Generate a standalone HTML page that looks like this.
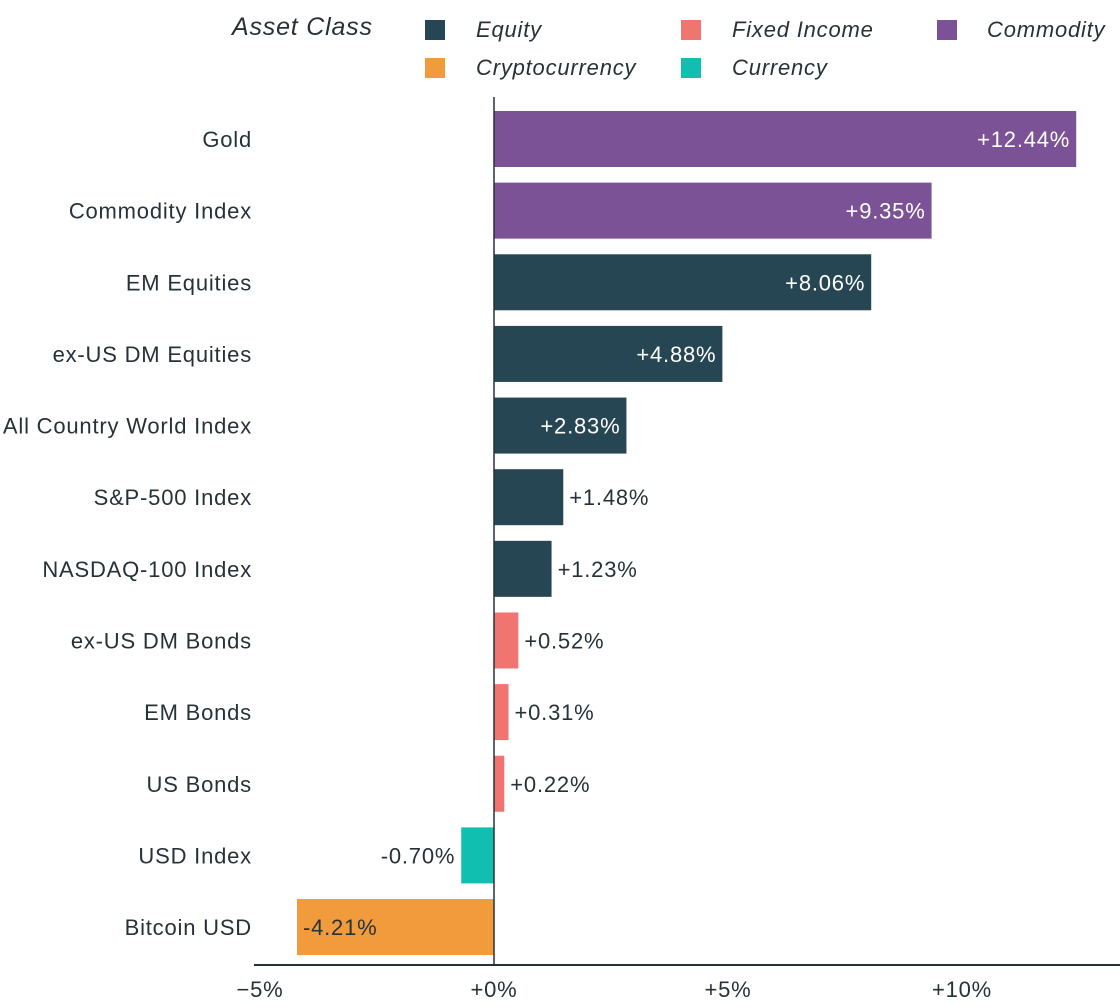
<!DOCTYPE html>
<html><head><meta charset="utf-8"><style>
body{margin:0;background:#fff;font-family:"Liberation Sans",sans-serif}
svg text{font-family:"Liberation Sans",sans-serif;letter-spacing:0.8px}
</style></head><body>
<svg id="c" width="1120" height="1000">
<g id="legend" font-style="italic" font-size="22" fill="#263238">
<text x="232" y="35" font-size="25">Asset Class</text>
<rect x="425" y="20" width="20" height="20" fill="#264653"/>
<text x="476" y="37">Equity</text>
<rect x="681" y="20" width="20" height="20" fill="#f07470"/>
<text x="732" y="37">Fixed Income</text>
<rect x="937" y="20" width="20" height="20" fill="#7b5295"/>
<text x="987" y="37">Commodity</text>
<rect x="425" y="58" width="20" height="20" fill="#f29b3c"/>
<text x="476" y="75">Cryptocurrency</text>
<rect x="681" y="58" width="20" height="20" fill="#10bfb0"/>
<text x="732" y="75">Currency</text>
</g>
</svg>
<script>
const categories=["Gold","Commodity Index","EM Equities","ex-US DM Equities","All Country World Index","S&P-500 Index ","NASDAQ-100 Index","ex-US DM Bonds","EM Bonds","US Bonds","USD Index","Bitcoin USD"];
const values=[12.44,9.35,8.06,4.88,2.83,1.48,1.23,0.52,0.31,0.22,-0.70,-4.21];
const classes=["Commodity","Commodity","Equity","Equity","Equity","Equity","Equity","Fixed Income","Fixed Income","Fixed Income","Currency","Cryptocurrency"];
const tickValues=[-5,0,5,10];
const tickLabels=["\u22125%","+0%","+5%","+10%"];
const colors={"Equity":"#264653","Fixed Income":"#f07470","Commodity":"#7b5295","Cryptocurrency":"#f29b3c","Currency":"#10bfb0"};
const svg=document.getElementById('c');const NS="http://www.w3.org/2000/svg";
const x=v=>494+v*46.8;
const y=i=>139+i*71.64;
function mk(t,a,txt){const e=document.createElementNS(NS,t);for(const k in a)e.setAttribute(k,a[k]);if(txt!=null)e.textContent=txt;svg.appendChild(e);return e;}
values.forEach((v,i)=>{
 const r=mk('rect',{x:Math.min(x(0),x(v)),y:y(i)-28,width:Math.abs(x(v)-x(0)),height:56,fill:colors[classes[i]]});
 
 
 const c=mk('text',{x:252,y:y(i)+8,'text-anchor':'end','font-size':22,fill:'#263238'},categories[i]);
 
 
 const lbl=(v>=0?'+':'')+v.toFixed(2)+'%';
 const w=Math.abs(x(v)-x(0));let a;
 if(v>=0&&w>100)a={x:x(v)-6,'text-anchor':'end',fill:'#fff'};
 else if(v>=0)a={x:x(v)+6,'text-anchor':'start',fill:'#263238'};
 else if(w>100)a={x:x(v)+6,'text-anchor':'start',fill:'#263238'};
 else a={x:x(v)-6,'text-anchor':'end',fill:'#263238'};
 a.y=y(i)+8;a['font-size']=22;
 const t=mk('text',a,lbl);
 
 
});
const zl=mk('line',{x1:494,x2:494,y1:97,y2:965,stroke:'#263238','stroke-width':1.5});


const xa=mk('line',{x1:254,x2:1120,y1:965,y2:965,stroke:'#263238','stroke-width':2});


tickValues.forEach((t,i)=>{
 const e=mk('text',{x:x(t),y:997,'text-anchor':'middle','font-size':22,fill:'#263238'},tickLabels[i]);
 
 
});
</script>
</body></html>
